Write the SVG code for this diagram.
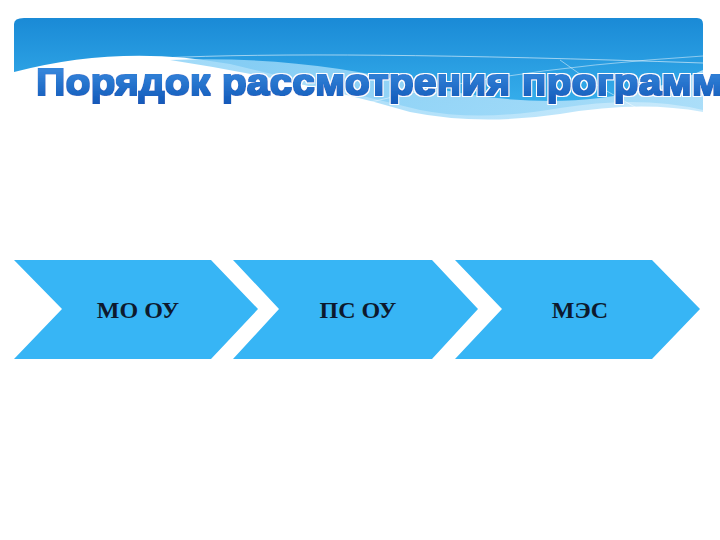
<svg xmlns="http://www.w3.org/2000/svg" width="720" height="540" viewBox="0 0 720 540">
<style>
.chev{fill:#37b5f5;}
.lbl{font-family:"Liberation Serif","Times New Roman",serif;font-weight:bold;font-size:24px;fill:#0d1a2e;text-anchor:middle;}
.title{font-family:"Liberation Sans",Arial,sans-serif;font-weight:bold;font-size:37px;fill:url(#tg);}
</style>
<defs>
<linearGradient id="bg" x1="0" y1="0" x2="0" y2="1">
<stop offset="0" stop-color="#1a8ad6"/>
<stop offset="1" stop-color="#3ab3ee"/>
</linearGradient>
<linearGradient id="wg" x1="0" y1="0" x2="1" y2="0">
<stop offset="0" stop-color="#8fd3f7"/>
<stop offset="1" stop-color="#bfe6fb"/>
</linearGradient>
<linearGradient id="tg" x1="0" y1="0" x2="0" y2="1">
<stop offset="0" stop-color="#3d8fe2"/>
<stop offset="1" stop-color="#1158b8"/>
</linearGradient>
<filter id="heavy" x="-5%" y="-30%" width="110%" height="160%">
<feMorphology in="SourceGraphic" operator="dilate" radius="0.9" result="bold"/>
<feMorphology in="SourceAlpha" operator="dilate" radius="2.2" result="outer"/>
<feFlood flood-color="#ffffff"/>
<feComposite in2="outer" operator="in" result="white"/>
<feMerge><feMergeNode in="white"/><feMergeNode in="bold"/></feMerge>
</filter>
</defs>
<rect width="720" height="540" fill="#ffffff"/>
<g id="header">
<path d="M24 18 H697 Q703 18 703 24 V110 Q640 95 560 108 Q480 122 420 110 Q330 88 230 64 Q120 44 14 72 V24 Q14 18 24 18 Z" fill="url(#bg)"/>
<path d="M170 60 Q300 55 420 85 Q520 108 600 98 Q660 90 703 70 V112 Q640 100 560 114 Q480 126 410 112 Q300 80 170 60 Z" fill="url(#wg)" opacity="0.85"/>
<path d="M160 58 Q330 50 703 63" fill="none" stroke="#ffffff" stroke-width="0.8" opacity="0.7"/>
<path d="M320 115 Q480 70 703 56" fill="none" stroke="#ffffff" stroke-width="0.8" opacity="0.6"/>
<path d="M560 60 Q600 90 660 120" fill="none" stroke="#ffffff" stroke-width="0.8" opacity="0.6"/>
<text class="title" x="36" y="95" textLength="686" lengthAdjust="spacingAndGlyphs" filter="url(#heavy)">Порядок рассмотрения программ</text>
</g>
<g id="node1">
<polygon class="chev" points="14,260 211,260 258,309 211,359 14,359 62,309"/>
<text class="lbl" x="138" y="318">МО ОУ</text>
</g>
<g id="node2">
<polygon class="chev" points="233,260 432,260 478,309 432,359 233,359 279,309"/>
<text class="lbl" x="358" y="318">ПС ОУ</text>
</g>
<g id="node3">
<polygon class="chev" points="455,260 652,260 700,309 652,359 455,359 502,309"/>
<text class="lbl" x="580" y="318">МЭС</text>
</g>
<g id="connectors"/>
</svg>
